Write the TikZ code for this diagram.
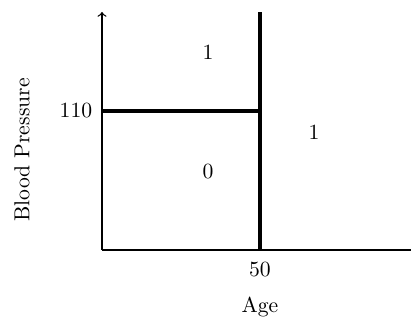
\documentclass[tikz,border=0pt]{standalone}
\usetikzlibrary{positioning}

\tikzset{
  split/.style={line width=1.5pt},
  axisline/.style={line width=0.6pt},
}

\begin{document}
\begin{tikzpicture}[x=0.462pt, y=-0.462pt]
  \useasboundingbox (0, 0) rectangle (412, 325);

  \coordinate (o) at (102, 250);
  \coordinate (ytop) at (102, 12);
  \coordinate (xend) at (411, 250);
  \coordinate (vtop) at (260, 12);
  \coordinate (vbot) at (260, 250);
  \coordinate (hleft) at (102, 111);
  \coordinate (hright) at (260, 111);

  \draw[axisline, ->] (o) -- (ytop);
  \draw[axisline] (o) -- (xend);

  \draw[split] (vbot) -- (vtop);
  \draw[split] (hleft) -- (hright);

  \node (ytick) [left=1pt of hleft] {110};
  \node (xtick) [below=2pt of vbot] {50};
  \node (xlabel) at (260, 307) {Age};
  \node (ylabel) [rotate=90] at (22, 150) {Blood Pressure};

  \node (upper) at (208, 52) {1};
  \node (lower) at (208, 172) {0};
  \node (right) at (314, 132) {1};
\end{tikzpicture}
\end{document}
